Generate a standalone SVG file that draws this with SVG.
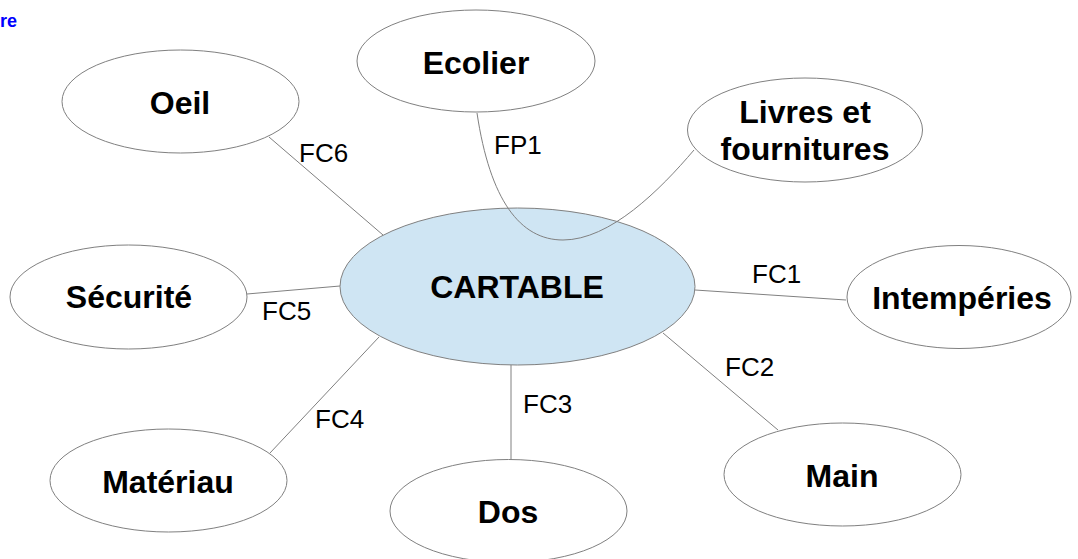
<svg xmlns="http://www.w3.org/2000/svg" width="1078" height="559" viewBox="0 0 1078 559">
<style>
.node{fill:#ffffff;stroke:#808080;stroke-width:1}
.center{fill:#cfe5f3;stroke:#808080;stroke-width:1}
.lbl{font-family:"Liberation Sans",Arial,sans-serif;font-weight:bold;font-size:32px;fill:#000;text-anchor:middle}
.elbl{font-family:"Liberation Sans",Arial,sans-serif;font-size:26px;fill:#000}
.conn{stroke:#808080;stroke-width:1;fill:none}
</style>
<rect width="1078" height="559" fill="#ffffff"/>
<text x="17" y="27" text-anchor="end" style="font-family:'Liberation Sans',Arial,sans-serif;font-weight:bold;font-size:18px;fill:#0000ff">re</text>
<g id="connectors">
<line class="conn" x1="269" y1="137" x2="383" y2="235"/>
<line class="conn" x1="247" y1="294" x2="340" y2="286"/>
<line class="conn" x1="695" y1="290" x2="846" y2="300"/>
<line class="conn" x1="663" y1="333" x2="778" y2="430"/>
<line class="conn" x1="511" y1="365" x2="511" y2="460"/>
<line class="conn" x1="379" y1="337" x2="270" y2="453"/>
<text class="elbl" x="299" y="162">FC6</text>
<text class="elbl" x="262" y="320">FC5</text>
<text class="elbl" x="752" y="283">FC1</text>
<text class="elbl" x="725" y="376">FC2</text>
<text class="elbl" x="523" y="413">FC3</text>
<text class="elbl" x="315" y="428">FC4</text>
<text class="elbl" x="494" y="154">FP1</text>
</g>
<g id="cartable">
<ellipse class="center" cx="517.5" cy="286.5" rx="177.5" ry="78.5"/>
<text class="lbl" x="517" y="298">CARTABLE</text>
</g>
<g id="fp1-curve">
<path class="conn" d="M477,113 C490,200 520,240 563,240 C610,240 660,190 694,150"/>
</g>
<g id="ecolier">
<ellipse class="node" cx="476" cy="61" rx="119" ry="51"/>
<text class="lbl" x="476" y="74">Ecolier</text>
</g>
<g id="oeil">
<ellipse class="node" cx="180.5" cy="101.5" rx="118.5" ry="51.5"/>
<text class="lbl" x="180" y="114">Oeil</text>
</g>
<g id="livres">
<ellipse class="node" cx="805" cy="130" rx="117.5" ry="52"/>
<text class="lbl" x="805" y="123">Livres et</text>
<text class="lbl" x="805" y="160">fournitures</text>
</g>
<g id="securite">
<ellipse class="node" cx="128.5" cy="297" rx="118.5" ry="52"/>
<text class="lbl" x="129" y="308">Sécurité</text>
</g>
<g id="intemperies">
<ellipse class="node" cx="959" cy="297" rx="112" ry="51.5"/>
<text class="lbl" x="962" y="309">Intempéries</text>
</g>
<g id="materiau">
<ellipse class="node" cx="168.5" cy="480.5" rx="118.5" ry="51.5"/>
<text class="lbl" x="168" y="493">Matériau</text>
</g>
<g id="dos">
<ellipse class="node" cx="508.5" cy="511" rx="118.5" ry="51.5"/>
<text class="lbl" x="508" y="523">Dos</text>
</g>
<g id="main">
<ellipse class="node" cx="842.5" cy="474.5" rx="118.5" ry="51.5"/>
<text class="lbl" x="842" y="487">Main</text>
</g>
</svg>
